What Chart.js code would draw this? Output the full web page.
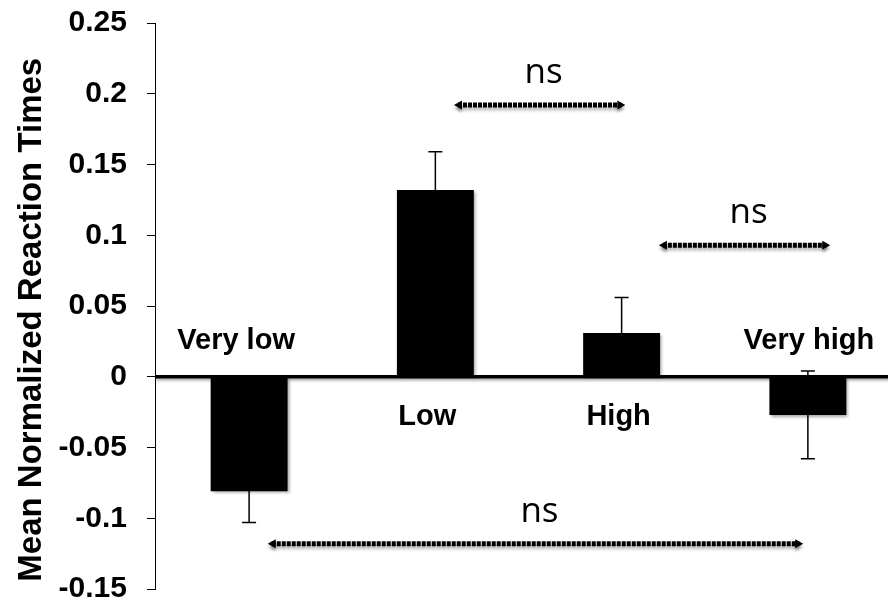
<!DOCTYPE html>
<html>
<head>
<meta charset="utf-8">
<script src="https://cdn.jsdelivr.net/npm/chart.js@4"></script>
<style>
  html, body { margin: 0; padding: 0; background: #fff; overflow: hidden; }
  #myChart { display: block; margin-top: -15px; }
</style>
</head>
<body>
<canvas id="myChart" width="904" height="642"></canvas>
<script>
const categories = ['Very low', 'Low', 'High', 'Very high'];
const meanRT = [-0.081, 0.132, 0.031, -0.027];
const errRT = [0.022, 0.027, 0.025, 0.031];
const yTicks = [-0.15, -0.1, -0.05, 0, 0.05, 0.1, 0.15, 0.2, 0.25];

// significance brackets (x in category units)
const sigFrom = [1.1, 2.2, 0.1];
const sigTo = [2.02, 3.12, 2.975];
const sigY = [0.192, 0.093, -0.118];
const sigLabel = ['ns', 'ns', 'ns'];

const boldFont = '"Liberation Sans", Arial, sans-serif';

const zeroLine = {
  id: 'zeroLine',
  beforeDatasetsDraw(chart) {
    const {ctx, chartArea, scales: {y}} = chart;
    const y0 = y.getPixelForValue(0);
    ctx.save();
    ctx.shadowColor = 'rgba(0,0,0,0.35)';
    ctx.shadowBlur = 3;
    ctx.shadowOffsetY = 2;
    ctx.strokeStyle = '#000';
    ctx.lineWidth = 3.5;
    ctx.beginPath();
    ctx.moveTo(chartArea.left, y0);
    ctx.lineTo(chartArea.right, y0);
    ctx.stroke();
    ctx.restore();
    // shadow for bars
    ctx.save();
    ctx.shadowColor = 'rgba(0,0,0,0.35)';
    ctx.shadowBlur = 3;
    ctx.shadowOffsetX = 2;
    ctx.shadowOffsetY = 2;
  },
  afterDatasetsDraw(chart) {
    chart.ctx.restore();
  }
};

const errorBars = {
  id: 'errorBars',
  afterDatasetsDraw(chart) {
    const {ctx, scales: {x, y}} = chart;
    ctx.save();
    ctx.strokeStyle = '#000';
    ctx.lineWidth = 1.5;
    meanRT.forEach((v, i) => {
      const px = x.getPixelForValue(i);
      const top = y.getPixelForValue(v + errRT[i]);
      const bot = y.getPixelForValue(v - errRT[i]);
      ctx.beginPath();
      ctx.moveTo(px, top); ctx.lineTo(px, bot);
      ctx.moveTo(px - 7, top); ctx.lineTo(px + 7, top);
      ctx.moveTo(px - 7, bot); ctx.lineTo(px + 7, bot);
      ctx.stroke();
    });
    ctx.restore();
  }
};

const barLabels = {
  id: 'barLabels',
  afterDraw(chart, args, opts) {
    const {ctx, scales: {x, y}} = chart;
    const y0 = y.getPixelForValue(0);
    ctx.save();
    ctx.fillStyle = '#000';
    ctx.font = 'bold 29px ' + boldFont;
    ctx.textAlign = 'center';
    categories.forEach((c, i) => {
      const px = x.getPixelForValue(i) + opts.shift[i];
      if (meanRT[i] < 0) {
        ctx.textBaseline = 'alphabetic';
        ctx.fillText(c, px, y0 - 28);
      } else {
        ctx.textBaseline = 'top';
        ctx.fillText(c, px, y0 + 26);
      }
    });
    ctx.restore();
  }
};

function arrowHead(ctx, x, y, dir) {
  ctx.beginPath();
  ctx.moveTo(x, y);
  ctx.lineTo(x - dir * 8, y - 4.5);
  ctx.lineTo(x - dir * 8, y + 4.5);
  ctx.closePath();
  ctx.fill();
}

const sigBrackets = {
  id: 'sigBrackets',
  afterDraw(chart) {
    const {ctx, scales: {x, y}} = chart;
    ctx.save();
    sigFrom.forEach((f, i) => {
      const x1 = x.getPixelForValue(f);
      const x2 = x.getPixelForValue(sigTo[i]);
      const py = y.getPixelForValue(sigY[i]);
      ctx.save();
      ctx.shadowColor = 'rgba(0,0,0,0.3)';
      ctx.shadowBlur = 3;
      ctx.shadowOffsetY = 3;
      ctx.strokeStyle = '#000';
      ctx.fillStyle = '#000';
      ctx.lineWidth = 5;
      ctx.setLineDash([4, 1]);
      ctx.beginPath();
      ctx.moveTo(x1 + 4, py);
      ctx.lineTo(x2 - 4, py);
      ctx.stroke();
      ctx.setLineDash([]);
      arrowHead(ctx, x1, py, -1);
      arrowHead(ctx, x2, py, 1);
      ctx.restore();
      ctx.fillStyle = '#000';
      ctx.font = '35px "Open Sans", sans-serif';
      ctx.textAlign = 'center';
      ctx.textBaseline = 'alphabetic';
      ctx.fillText(sigLabel[i], (x1 + x2) / 2 + 4, py - 22);
    });
    ctx.restore();
  }
};

const ctx = document.getElementById('myChart');

const myChart = new Chart(ctx, {
  type: 'bar',
  data: {
    labels: categories,
    datasets: [{
      data: meanRT,
      backgroundColor: '#000',
      borderWidth: 0,
      categoryPercentage: 1,
      barPercentage: 0.413
    }]
  },
  options: {
    responsive: false,
    animation: false,
    events: [],
    layout: { padding: { top: 8, bottom: 9, right: 3, left: 0 } },
    plugins: {
      legend: { display: false },
      tooltip: { enabled: false },
      barLabels: { shift: [-13, -8, -3, 1] }
    },
    scales: {
      x: {
        display: false
      },
      y: {
        min: -0.15,
        max: 0.25,
        afterBuildTicks: s => { s.ticks = yTicks.map(v => ({ value: v })); },
        border: { display: true, color: '#000', width: 1 },
        grid: {
          drawOnChartArea: false,
          drawTicks: true,
          tickLength: 9,
          tickColor: '#000'
        },
        ticks: {
          color: '#000',
          padding: 20,
          font: { family: boldFont, size: 30, weight: 'bold' },
          callback: v => String(+(+v).toFixed(2))
        },
        title: {
          display: true,
          text: 'Mean Normalized Reaction Times   ',
          color: '#000',
          font: { family: boldFont, size: 33, weight: 'bold' },
          padding: { top: 12, bottom: -13 }
        }
      }
    }
  },
  plugins: [zeroLine, errorBars, barLabels, sigBrackets]
});
</script>
</body>
</html>
